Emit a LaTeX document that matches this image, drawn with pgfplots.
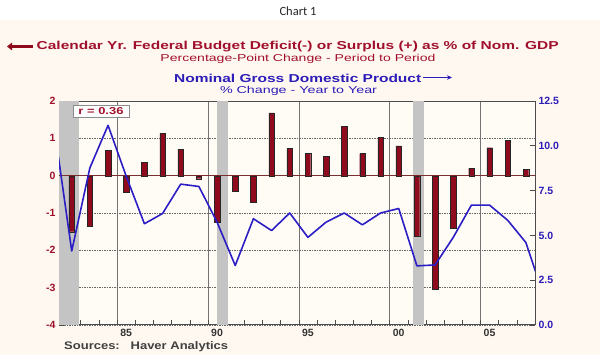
\documentclass[border=0pt]{standalone}
\usepackage{fontspec}
\setmainfont{Liberation Sans}
\newfontfamily\carlito{Carlito}
\usepackage{pgfplots}
\pgfplotsset{compat=1.18}
\usetikzlibrary{arrows.meta}
\definecolor{cream}{HTML}{FFF8F0}
\definecolor{plotbg}{HTML}{FFFBF5}
\definecolor{barred}{HTML}{8E0A1C}
\definecolor{txtred}{HTML}{A0102C}
\definecolor{txtblue}{HTML}{2C1CB8}
\definecolor{linblue}{HTML}{2A1EC4}
\definecolor{recgray}{HTML}{C4C4C4}
\definecolor{zerocol}{HTML}{7A3030}
\begin{document}
\begin{tikzpicture}[x=1pt,y=1pt]
\useasboundingbox (0,0) rectangle (600,355);
\fill[white] (0,0) rectangle (600,355);
\fill[cream] (0,0) rectangle (600,335);
% titles
\node[font=\carlito\fontsize{12.5}{13}\selectfont, text=black!85] at (298,344) {Chart 1};
\draw[barred, line width=3.5pt, -{Triangle[length=5pt,width=7.5pt]}] (33,308.5) -- (7,308.5);
\node[anchor=west, inner sep=0pt, text=txtred] at (36.5,308.5) {\resizebox{522pt}{\height}{\bfseries\fontsize{11.5}{12}\selectfont Calendar Yr. Federal Budget Deficit(-) or Surplus (+) as \% of Nom. GDP}};
\node[inner sep=0pt, text=txtred] at (298,296) {\resizebox{275pt}{\height}{\fontsize{10}{11}\selectfont Percentage-Point Change - Period to Period}};
\node[anchor=west, inner sep=0pt, text=txtblue] at (174,277) {\resizebox{247pt}{\height}{\bfseries\fontsize{11.5}{12}\selectfont Nominal Gross Domestic Product}};
\draw[txtblue, line width=1.2pt, -{Stealth[length=5pt,width=4.5pt]}] (423,277.5) -- (452,277.5);
\node[inner sep=0pt, text=txtblue] at (298.5,264) {\resizebox{157pt}{\height}{\fontsize{10}{11}\selectfont \% Change - Year to Year}};
\node[anchor=west, inner sep=0pt, text=black!75] at (64,8.5) {\resizebox{164pt}{\height}{\bfseries\fontsize{11}{12}\selectfont Sources:\ \ \ Haver Analytics}};

\begin{axis}[
  at={(59pt,30pt)}, anchor=south west,
  scale only axis, width=476pt, height=224pt,
  xmin=1981.3, xmax=2007.5, ymin=-4, ymax=2,
  axis background/.style={fill=plotbg},
  axis line style={draw=black!70, line width=1pt},
  xtick={1984.5,1989.5,1994.5,1999.5,2004.5},
  xticklabels={},
  minor xtick={1981.5,1982.5,...,2006.5},
  minor tick length=5pt, major tick length=5pt,
  extra x ticks={1985,1990,1995,2000,2005},
  extra x tick labels={85,90,95,00,05},
  extra x tick style={grid=none, major tick length=0pt},
  xtick pos=bottom,
  xmajorgrids, ymajorgrids,
  x grid style={draw=black!55, line width=0.6pt},
  y grid style={draw=black!60, line width=0.5pt, dash pattern=on 1.5pt off 1pt},
  ytick={-4,-3,-2,-1,0,1,2},
  ytick pos=left,
  tick style={draw=black!70, line width=0.6pt},
  /pgf/number format/assume math mode=true,
  x tick label style={font=\bfseries\fontsize{10.5}{11}\selectfont, text=black!80, yshift=-1pt},
  y tick label style={font=\bfseries\fontsize{10.5}{11}\selectfont, text=txtred},
]
\fill[recgray] (axis cs:1981.3,-4) rectangle (axis cs:1982.4,2);
\fill[recgray] (axis cs:1990.0,-4) rectangle (axis cs:1990.62,2);
\fill[recgray] (axis cs:2000.76,-4) rectangle (axis cs:2001.4,2);
\draw[zerocol, line width=0.8pt] (axis cs:1981.3,0) -- (axis cs:2007.5,0);
\addplot[ybar, bar width=5.5pt, fill=barred, draw=black!85, line width=0.3pt] coordinates {
(1982,-1.50) (1983,-1.36) (1984,0.68) (1985,-0.45) (1986,0.35) (1987,1.14)
(1988,0.71) (1989,-0.08) (1990,-1.25) (1991,-0.41) (1992,-0.71) (1993,1.68)
(1994,0.73) (1995,0.59) (1996,0.51) (1997,1.32) (1998,0.59) (1999,1.02)
(2000,0.80) (2001,-1.62) (2002,-3.03) (2003,-1.41) (2004,0.20) (2005,0.75)
(2006,0.94) (2007,0.17)};
\end{axis}
\node[draw=black!45, fill=white, line width=0.7pt, minimum width=56pt, minimum height=12.5pt, inner sep=0pt, text=txtred] at (101,243.7) {\resizebox{45pt}{\height}{\bfseries\fontsize{10}{10}\selectfont r = 0.36}};

\begin{axis}[
  at={(59pt,30pt)}, anchor=south west,
  scale only axis, width=476pt, height=224pt,
  xmin=1981.3, xmax=2007.5, ymin=0, ymax=12.5,
  axis x line=none,
  axis y line*=right,
  axis line style={draw=black!70, line width=1pt},
  ytick={0,2.5,5,7.5,10,12.5},
  tick style={draw=black!70, line width=0.6pt},
  major tick length=5pt,
  /pgf/number format/.cd, fixed, fixed zerofill, precision=1, assume math mode=true,
  /pgfplots/.cd,
  y tick label style={font=\bfseries\fontsize{10.5}{11}\selectfont, text=txtblue},
]
\addplot[linblue, line width=1.6pt, line join=round] coordinates {
(1981,11.3) (1982,4.13) (1983,8.77) (1984,11.14) (1985,8.3) (1986,5.65)
(1987,6.22) (1988,7.86) (1989,7.73) (1990,5.74) (1991,3.32) (1992,5.93)
(1993,5.27) (1994,6.25) (1995,4.89) (1996,5.74) (1997,6.25) (1998,5.59)
(1999,6.25) (2000,6.50) (2001,3.30) (2002,3.35) (2003,4.89) (2004,6.69)
(2005,6.69) (2006,5.84) (2007,4.60) (2008,1.55)};
\end{axis}
\end{tikzpicture}
\end{document}
